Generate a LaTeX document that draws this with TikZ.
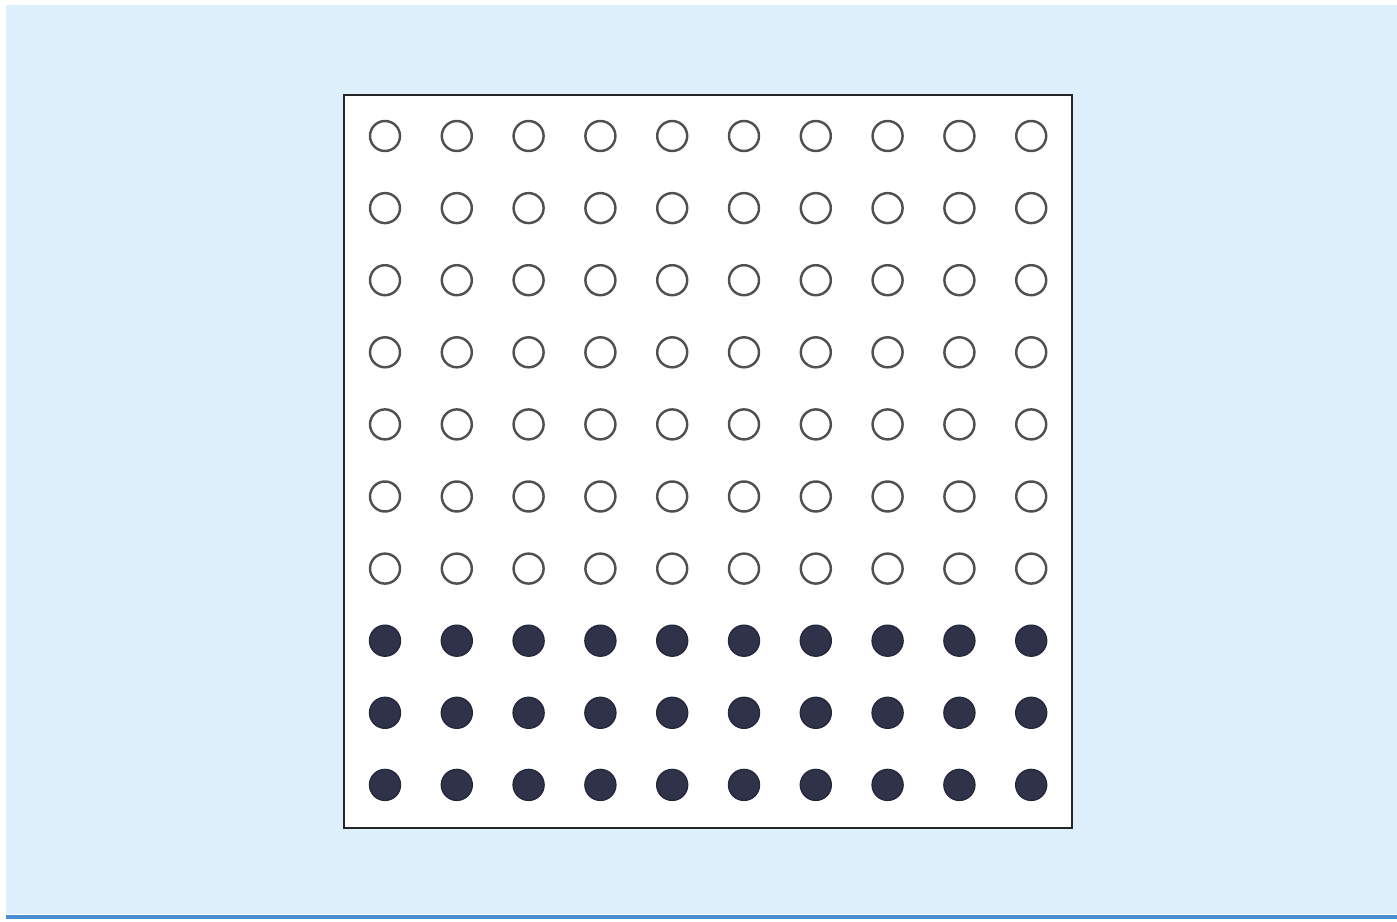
\documentclass[tikz,border=0pt]{standalone}
\usepackage{xcolor}
\usepackage{tikz}
\definecolor{bgblue}{HTML}{DFF0FD}
\definecolor{lineblue}{HTML}{4A90D0}
\definecolor{ringgray}{HTML}{505050}
\definecolor{dotnavy}{HTML}{30324A}

\begin{document}
\begin{tikzpicture}[x=0.02cm, y=-0.02cm, semithick,
    hollow/.style={circle, draw=ringgray, line width=1.4pt, fill=white, minimum size=0.6cm, inner sep=0pt},
    filled/.style={circle, draw=dotnavy!80!black, line width=0.8pt, fill=dotnavy, minimum size=0.62cm, inner sep=0pt}]
    \useasboundingbox (0,0) rectangle (1397,922);
    \fill[white] (0,0) rectangle (1397,922);
    \fill[bgblue] (6,5) rectangle (1397,914);
    \draw[lineblue, line width=2pt] (6,917) -- (1397,917);
    \node[draw=black!85, line width=1.2pt, fill=white, minimum width=14.56cm, minimum height=14.66cm, inner sep=0pt] (box) at (708,461.5) {};
    % ten rows of dots, the lower three filled
    \foreach \r in {0,...,9} {
      \foreach \c in {0,...,9} {
        \ifnum\r<7
          \node[hollow] (d-\r-\c) at (385+71.8*\c, 136+72.1*\r) {};
        \else
          \node[filled] (d-\r-\c) at (385+71.8*\c, 136+72.1*\r) {};
        \fi
      }
    }
  \end{tikzpicture}
\end{document}
